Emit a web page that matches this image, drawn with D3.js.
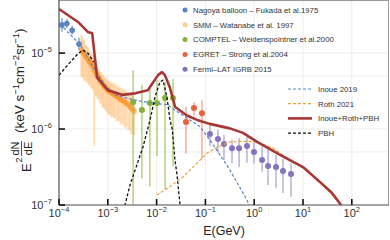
<!DOCTYPE html>
<html>
<head>
<meta charset="utf-8">
<script src="https://cdn.jsdelivr.net/npm/d3@7/dist/d3.min.js"></script>
<style>
body { margin: 0; background: #fff; }
svg { display: block; font-family: "Liberation Sans", Arial, sans-serif; }
</style>
</head>
<body>
<div id="chart"></div>
<script>
// ----------------------------------------
// DATA (E in GeV, E^2 dN/dE in keV s^-1 cm^-2 sr^-1)

var nagoyaE = [1.15e-4, 1.45e-4, 1.86e-4, 2.57e-4];
var nagoyaV = [2.35e-5, 2.45e-5, 2.0e-5, 1.32e-5];
var nagoyaErr = [0.09, 0.06, 0.06, 0.08]; // dex

var smmE = [2.85e-4, 3.0e-4, 3.15e-4, 3.3e-4, 3.5e-4, 3.7e-4, 3.9e-4, 4.1e-4, 4.3e-4, 4.55e-4,
  4.8e-4, 5.05e-4, 5.3e-4, 5.6e-4, 5.9e-4, 6.2e-4, 6.55e-4, 6.9e-4, 7.3e-4, 7.7e-4,
  8.1e-4, 8.55e-4, 9.0e-4, 9.5e-4, 1.0e-3, 1.06e-3, 1.12e-3, 1.18e-3, 1.25e-3, 1.32e-3,
  1.4e-3, 1.5e-3, 1.6e-3, 1.7e-3, 1.82e-3, 1.95e-3, 2.1e-3, 2.25e-3, 2.4e-3, 2.6e-3,
  2.8e-3, 3.0e-3, 3.25e-3, 3.5e-3];
var smmV = [1.10e-5, 1.05e-5, 1.0e-5, 9.7e-6, 9.1e-6, 8.7e-6, 8.3e-6, 7.9e-6, 7.6e-6, 7.2e-6,
  6.9e-6, 6.4e-6, 6.0e-6, 5.6e-6, 5.2e-6, 4.9e-6, 4.7e-6, 4.4e-6, 4.2e-6, 4.0e-6,
  3.8e-6, 3.6e-6, 3.55e-6, 3.4e-6, 3.25e-6, 3.15e-6, 3.1e-6, 3.0e-6, 2.95e-6, 2.9e-6,
  2.8e-6, 2.7e-6, 2.65e-6, 2.55e-6, 2.45e-6, 2.4e-6, 2.35e-6, 2.25e-6, 2.2e-6, 2.1e-6,
  2.0e-6, 1.9e-6, 1.8e-6, 1.7e-6];
var smmUp = [0.20, 0.19, 0.18, 0.18, 0.17, 0.16, 0.16, 0.15, 0.15, 0.14,
  0.14, 0.13, 0.13, 0.13, 0.12, 0.13, 0.12, 0.12, 0.13, 0.12,
  0.13, 0.12, 0.13, 0.13, 0.12, 0.14, 0.13, 0.14, 0.14, 0.13,
  0.15, 0.14, 0.15, 0.15, 0.16, 0.15, 0.16, 0.16, 0.17, 0.16,
  0.17, 0.17, 0.18, 0.17];
var smmDn = [0.35, 0.34, 0.33, 0.35, 0.32, 0.33, 0.31, 0.33, 0.30, 0.32,
  0.31, 0.30, 1.00, 0.31, 0.29, 0.30, 0.28, 0.30, 0.29, 0.31,
  0.30, 0.29, 0.31, 0.30, 0.32, 0.30, 0.31, 0.33, 0.30, 0.32,
  0.31, 0.33, 0.32, 0.30, 0.33, 0.31, 0.32, 0.34, 0.31, 0.33,
  0.32, 0.34, 0.33, 0.31];

var comptelE = [3.3e-3, 5.0e-3, 7.3e-3, 1.02e-2, 1.49e-2, 2.17e-2];
var comptelV = [2.26e-6, 1.78e-6, 2.2e-6, 2.2e-6, 2.57e-6, 2.57e-6];
var comptelUp = [0.42, 0.33, 0.2, 0.3, 0.2, 0.25];
var comptelDn = [1.4, 0.9, 1.1, 0.7, 1.2, 0.9];

var egretE = [4.0e-2, 5.83e-2, 8.5e-2];
var egretV = [1.24e-6, 1.89e-6, 1.62e-6];
var egretUp = [0.2, 0.08, 0.17];
var egretDn = [0.42, 0.1, 0.6];

var fermiE = [0.124, 0.181, 0.240, 0.351, 0.489, 0.711, 0.99, 1.45, 1.92, 2.8, 3.89, 5.68];
var fermiV = [8.6e-7, 7.4e-7, 6.35e-7, 5.6e-7, 5.6e-7, 5.97e-7, 4.98e-7, 3.91e-7, 3.26e-7, 3.16e-7, 2.8e-7, 2.56e-7];
var fermiUp = [0.14, 0.12, 0.12, 0.11, 0.13, 0.12, 0.16, 0.17, 0.24, 0.16, 0.16, 0.14];
var fermiDn = [0.16, 0.18, 0.21, 0.2, 0.25, 0.22, 0.15, 0.16, 0.25, 0.28, 0.29, 0.3];

// model curves
var inoueE = [1.05e-4, 2.7e-4, 5.0e-4, 8.7e-4, 1.41e-3, 3.63e-3, 8.1e-3, 1.62e-2, 3.47e-2, 7.8e-2, 0.123, 0.174, 0.316, 0.71, 0.81];
var inoueV = [2.4e-5, 1.29e-5, 6.6e-6, 3.8e-6, 2.8e-6, 2.4e-6, 2.2e-6, 2.1e-6, 1.51e-6, 1.07e-6, 7.2e-7, 5.2e-7, 2.9e-7, 1.17e-7, 9.3e-8];

var rothE = [1.0e-2, 1.86e-2, 3.47e-2, 6.76e-2, 0.107, 0.174, 0.316, 0.59, 1.15, 2.45, 5.4, 10.0, 22.4, 38.9, 60.3];
var rothV = [1.35e-7, 1.74e-7, 2.34e-7, 3.55e-7, 4.8e-7, 5.75e-7, 6.76e-7, 6.9e-7, 6.76e-7, 5.6e-7, 3.9e-7, 3.1e-7, 1.95e-7, 1.38e-7, 1.0e-7];

// PBH: low-energy part ends at 511 keV, second bump around 10 MeV
var pbhLowE = [1.0e-4, 1.32e-4, 1.86e-4, 2.45e-4, 3.09e-4, 3.89e-4, 4.6e-4, 5.11e-4];
var pbhLowV = [5.1e-6, 6.3e-6, 8.1e-6, 9.8e-6, 1.1e-5, 1.0e-5, 8.5e-6, 7.6e-6];
var pbhHighE = [2.1e-3, 2.25e-3, 2.85e-3, 5.26e-3, 7.33e-3, 9.27e-3, 1.17e-2, 1.35e-2, 1.63e-2, 1.88e-2, 2.1e-2, 2.38e-2, 2.63e-2, 3.02e-2, 3.55e-2];
var pbhHighV = [1.0e-8, 1.0e-7, 1.83e-7, 5.8e-7, 1.32e-6, 2.63e-6, 4.17e-6, 4.41e-6, 2.63e-6, 1.32e-6, 9.8e-7, 3.9e-7, 2.45e-7, 1.0e-7, 1.0e-8];

var totalE = [1.0e-4, 2.45e-4, 3.89e-4, 4.79e-4, 6.03e-4, 1.0e-3, 1.95e-3, 3.63e-3, 6.6e-3, 1.07e-2, 1.29e-2, 1.48e-2,
  1.86e-2, 2.4e-2, 4.17e-2, 6.76e-2, 0.123, 0.316, 0.589, 1.15, 3.39, 5.37, 10.0, 22.4, 38.9, 60.3];
var totalV = [3.8e-5, 2.57e-5, 1.9e-5, 1.82e-5, 4.8e-6, 3.24e-6, 2.82e-6, 2.95e-6, 3.24e-6, 5.13e-6, 5.62e-6, 5.13e-6,
  3.55e-6, 1.95e-6, 1.51e-6, 1.32e-6, 1.17e-6, 1.02e-6, 8.9e-7, 6.76e-7, 4.57e-7, 3.89e-7, 3.16e-7, 2.0e-7, 1.45e-7, 1.0e-7];

var xTicks = [1e-4, 1e-3, 1e-2, 1e-1, 1e0, 1e1, 1e2];
var xTickExp = ["\u22124", "\u22123", "\u22122", "\u22121", "0", "1", "2"];
var yTicks = [1e-7, 1e-6, 1e-5];
var yTickExp = ["\u22127", "\u22126", "\u22125"];
var yGrid = [1e-7, 5e-7, 1e-6, 5e-6, 1e-5];

var dataLegend = ["Nagoya balloon \u2013 Fukada et al.1975", "SMM \u2013 Watanabe et al. 1997",
  "COMPTEL \u2013 Weidenspointner et al.2000", "EGRET \u2013 Strong et al.2004", "Fermi\u2013LAT IGRB  2015"];
var modelLegend = ["Inoue 2019", "Roth 2021", "Inoue+Roth+PBH", "PBH"];

// ----------------------------------------
// SETUP

var width = 390;
var height = 240;
var pLeft = 59, pRight = 389, pTop = 0, pBottom = 205;

var svg = d3.select("#chart").append("svg")
  .attr("width", width)
  .attr("height", height);

var x = d3.scaleLog().domain([1e-4, 578]).range([pLeft, pRight]);
var y = d3.scaleLog().domain([1e-7, 5e-5]).range([pBottom, pTop]);

svg.append("clipPath").attr("id", "clip")
  .append("rect").attr("x", pLeft).attr("y", pTop).attr("width", pRight - pLeft).attr("height", pBottom - pTop);

// grid
svg.append("g").selectAll("line").data(xTicks).enter().append("line")
  .attr("x1", function (d) { return x(d); }).attr("x2", function (d) { return x(d); })
  .attr("y1", pTop).attr("y2", pBottom)
  .attr("stroke", "#e8e8e8").attr("stroke-width", 0.8);
svg.append("g").selectAll("line").data(yGrid).enter().append("line")
  .attr("y1", function (d) { return y(d); }).attr("y2", function (d) { return y(d); })
  .attr("x1", pLeft).attr("x2", pRight)
  .attr("stroke", "#e8e8e8").attr("stroke-width", 0.8);

var plot = svg.append("g").attr("clip-path", "url(#clip)");

function pts(es, vs) {
  return es.map(function (e, i) { return [e, vs[i]]; });
}
function shift(v, dex) { return v * Math.pow(10, dex); }

var line = d3.line()
  .x(function (d) { return x(d[0]); })
  .y(function (d) { return y(d[1]); });

// ----------------------------------------
// DATA POINTS

function errorSet(es, vs, up, dn, barColor, barOpacity, barWidth, dotColor, dotOpacity, r) {
  var g = plot.append("g");
  g.selectAll("line").data(es).enter().append("line")
    .attr("x1", function (d) { return x(d); }).attr("x2", function (d) { return x(d); })
    .attr("y1", function (d, i) { return y(shift(vs[i], up[i])); })
    .attr("y2", function (d, i) { return y(shift(vs[i], -dn[i])); })
    .attr("stroke", barColor).attr("stroke-opacity", barOpacity).attr("stroke-width", barWidth);
  g.selectAll("circle").data(es).enter().append("circle")
    .attr("cx", function (d) { return x(d); })
    .attr("cy", function (d, i) { return y(vs[i]); })
    .attr("r", r)
    .attr("fill", dotColor).attr("fill-opacity", dotOpacity);
}

errorSet(smmE, smmV, smmUp, smmDn, "#ffb868", 0.5, 1.6, "#ff9020", 0.5, 2.8);
errorSet(nagoyaE, nagoyaV, nagoyaErr, nagoyaErr, "#5b82c2", 0.8, 1.3, "#5b82c2", 1, 2.8);
errorSet(comptelE, comptelV, comptelUp, comptelDn, "#9cc45a", 0.9, 1.3, "#86b23a", 1, 3);
errorSet(egretE, egretV, egretUp, egretDn, "#f08a70", 0.8, 1.3, "#e8603a", 1, 3);
errorSet(fermiE, fermiV, fermiUp, fermiDn, "#9a8cc8", 0.8, 1.3, "#8473bd", 1, 3);

// ----------------------------------------
// MODEL CURVES

function curve(es, vs, color, w, dash) {
  plot.append("path").attr("d", line(pts(es, vs)))
    .attr("fill", "none").attr("stroke", color).attr("stroke-width", w)
    .attr("stroke-dasharray", dash).attr("stroke-linejoin", "round");
}

curve(inoueE, inoueV, "#5a86c5", 1.2, "3,2");
curve(rothE, rothV, "#f0a030", 1.2, "3,2");
curve(pbhLowE, pbhLowV, "#111", 1.3, "3,2");
curve(pbhHighE, pbhHighV, "#111", 1.3, "3,2");
curve(totalE, totalV, "#a83636", 2.6, null);

// ----------------------------------------
// AXES

svg.append("line").attr("x1", pLeft).attr("x2", pRight).attr("y1", pTop + 0.5).attr("y2", pTop + 0.5).attr("stroke", "#999");
svg.append("line").attr("x1", pRight - 0.5).attr("x2", pRight - 0.5).attr("y1", pTop).attr("y2", pBottom).attr("stroke", "#999");
svg.append("line").attr("x1", pLeft).attr("x2", pRight).attr("y1", pBottom).attr("y2", pBottom).attr("stroke", "#555").attr("stroke-width", 1.2);
svg.append("line").attr("x1", pLeft).attr("x2", pLeft).attr("y1", pTop).attr("y2", pBottom).attr("stroke", "#555").attr("stroke-width", 1.2);

svg.append("g").selectAll("line").data(xTicks).enter().append("line")
  .attr("x1", function (d) { return x(d); }).attr("x2", function (d) { return x(d); })
  .attr("y1", pBottom).attr("y2", pBottom - 6)
  .attr("stroke", "#111").attr("stroke-width", 1.6);
svg.append("g").selectAll("line").data(yTicks).enter().append("line")
  .attr("y1", function (d) { return y(d); }).attr("y2", function (d) { return y(d); })
  .attr("x1", pLeft).attr("x2", pLeft + 6)
  .attr("stroke", "#111").attr("stroke-width", 1.6);

var xl = svg.append("g").selectAll("text").data(xTicks).enter().append("text")
  .attr("x", function (d) { return x(d); }).attr("y", 217)
  .attr("text-anchor", "middle").attr("font-size", 11).attr("fill", "#333");
xl.append("tspan").text("10");
xl.append("tspan").attr("dy", -5).attr("font-size", 7.5).text(function (d, i) { return xTickExp[i]; });

var yl = svg.append("g").selectAll("text").data(yTicks).enter().append("text")
  .attr("x", 52).attr("y", function (d) { return y(d) + 4; })
  .attr("text-anchor", "end").attr("font-size", 11).attr("fill", "#333");
yl.append("tspan").text("10");
yl.append("tspan").attr("dy", -5).attr("font-size", 7.5).text(function (d, i) { return yTickExp[i]; });

svg.append("text").attr("x", 224).attr("y", 235).attr("text-anchor", "middle")
  .attr("font-size", 12.5).attr("fill", "#222").text("E(GeV)");

// y label, rotated
var yLab = svg.append("g").attr("transform", "translate(0,174) rotate(-90)").attr("fill", "#222");
yLab.append("text").attr("x", 2).attr("y", 31).attr("font-size", 13).text("E");
yLab.append("text").attr("x", 11.5).attr("y", 22).attr("font-size", 9).text("2");
yLab.append("text").attr("x", 25.5).attr("y", 19).attr("font-size", 11).attr("text-anchor", "middle").text("dN");
yLab.append("line").attr("x1", 18).attr("x2", 33).attr("y1", 21.5).attr("y2", 21.5).attr("stroke", "#222").attr("stroke-width", 0.8);
yLab.append("text").attr("x", 25.5).attr("y", 32).attr("font-size", 11).attr("text-anchor", "middle").text("dE");
var unit = yLab.append("text").attr("x", 41).attr("y", 24).attr("font-size", 13.5);
unit.append("tspan").text("(keV s");
unit.append("tspan").attr("dy", -5.5).attr("font-size", 9.5).text("\u22121");
unit.append("tspan").attr("dy", 5.5).text("cm");
unit.append("tspan").attr("dy", -5.5).attr("font-size", 9.5).text("\u22122");
unit.append("tspan").attr("dy", 5.5).text("sr");
unit.append("tspan").attr("dy", -5.5).attr("font-size", 9.5).text("\u22121");
unit.append("tspan").attr("dy", 5.5).text(")");

// ----------------------------------------
// LEGENDS

var dotColors = ["#5b82c2", "#ffc98f", "#86b23a", "#e8603a", "#8473bd"];
var lg1 = svg.append("g").selectAll("g").data(dataLegend).enter().append("g")
  .attr("transform", function (d, i) { return "translate(185," + (10 + i * 14.8) + ")"; });
lg1.append("circle").attr("r", 2.5).attr("fill", function (d, i) { return dotColors[i]; });
lg1.append("text").attr("x", 8).attr("y", 2.8).attr("font-size", 7.8).attr("fill", "#333").text(function (d) { return d; });

var lineStyles = [
  { c: "#5a86c5", w: 1.2, dash: "3,2" },
  { c: "#f0a030", w: 1.2, dash: "3,2" },
  { c: "#a83636", w: 2.6, dash: null },
  { c: "#111", w: 1.2, dash: "3,2" }
];
var lg2 = svg.append("g").selectAll("g").data(modelLegend).enter().append("g")
  .attr("transform", function (d, i) { return "translate(288," + (89 + i * 14.7) + ")"; });
lg2.append("line").attr("x1", 0).attr("x2", 24).attr("y1", 0).attr("y2", 0)
  .attr("stroke", function (d, i) { return lineStyles[i].c; })
  .attr("stroke-width", function (d, i) { return lineStyles[i].w; })
  .attr("stroke-dasharray", function (d, i) { return lineStyles[i].dash; });
lg2.append("text").attr("x", 30).attr("y", 2.8).attr("font-size", 7.8).attr("fill", "#333").text(function (d) { return d; });
</script>
</body>
</html>
